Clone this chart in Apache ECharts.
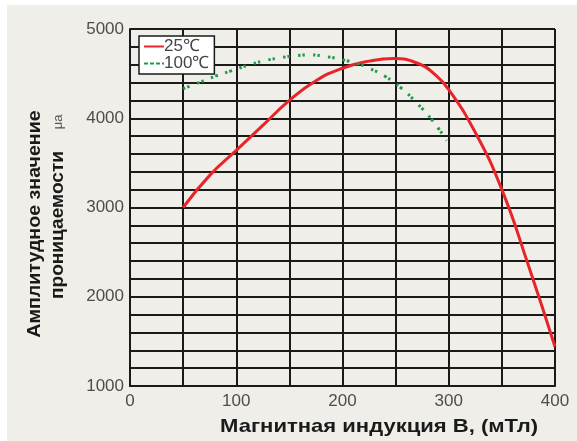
<!DOCTYPE html>
<html>
<head>
<meta charset="utf-8">
<script src="https://cdn.jsdelivr.net/npm/echarts@6/dist/echarts.min.js"></script>
<style>
html,body{margin:0;padding:0;background:#ffffff;width:577px;height:441px;overflow:hidden;}
#chart{position:absolute;left:7px;top:5px;width:570px;height:436px;}
</style>
</head>
<body>
<div id="chart"></div>
<script>
// Data
var seriesNames = ['25℃', '100℃'];
var b25 = [50, 75, 100, 125, 150, 175, 200, 225, 248, 273, 286, 300, 325, 350, 375, 400];
var mu25 = [3000, 3360, 3640, 3920, 4200, 4420, 4560, 4640, 4670, 4605, 4500, 4320, 3840, 3200, 2350, 1440];
var b100 = [50, 65, 80, 95, 110, 125, 140, 155, 170, 185, 200, 215, 225, 240, 255, 270, 285, 298];
var mu100 = [4330, 4400, 4470, 4530, 4590, 4640, 4675, 4700, 4710, 4690, 4655, 4610, 4560, 4470, 4340, 4170, 3970, 3750];
var xTickLabels = [0, 100, 200, 300, 400];
var yTickLabels = [1000, 2000, 3000, 4000, 5000];
var xTitle = 'Магнитная индукция В, (мТл)';
var yTitle1 = 'Амплитудное значение';
var yTitle2 = 'проницаемости';
var yUnit = 'μa';

function pairs(xs, ys) { return xs.map(function (x, i) { return [x, ys[i]]; }); }

var chart = echarts.init(document.getElementById('chart'));
var font = '"Liberation Sans", Arial, sans-serif';
var gridLine = { color: '#1a1a1a', width: 2 };
chart.setOption({
  backgroundColor: '#efeee8',
  animation: false,
  textStyle: { fontFamily: font },
  grid: { left: 123, top: 24, right: 22, bottom: 55 },
  legend: {
    left: 132, top: 31,
    orient: 'vertical',
    itemGap: 0,
    itemWidth: 20, itemHeight: 15,
    padding: [2, 5, 2, 4],
    backgroundColor: '#ffffff',
    borderColor: '#1a1a1a',
    borderWidth: 1.5,
    borderRadius: 0,
    itemStyle: { opacity: 0 },
    textStyle: { fontSize: 17, color: '#444', fontFamily: font, padding: [0, 0, 0, -5] },
    data: [
      { name: seriesNames[0] },
      { name: seriesNames[1], lineStyle: { type: [4, 2], width: 2 } }
    ]
  },
  xAxis: {
    type: 'value', min: 0, max: 400, interval: 50,
    axisLine: { show: true, lineStyle: gridLine },
    axisTick: { show: false },
    axisLabel: {
      color: '#4d4d4d', fontSize: 17, margin: 7,
      formatter: function (v) { return xTickLabels.indexOf(v) >= 0 ? String(v) : ''; }
    },
    splitLine: { show: true, lineStyle: gridLine }
  },
  yAxis: {
    type: 'value', min: 1000, max: 5000, interval: 200,
    axisLine: { show: true, lineStyle: gridLine },
    axisTick: { show: false },
    axisLabel: {
      color: '#4d4d4d', fontSize: 17, margin: 6,
      formatter: function (v) { return yTickLabels.indexOf(v) >= 0 ? String(v) : ''; }
    },
    splitLine: { show: true, lineStyle: gridLine }
  },
  graphic: [
    { type: 'text', x: 372, y: 422, scaleX: 1.16,
      style: { text: xTitle, font: 'bold 19px ' + font, fill: '#1a1a1a', align: 'center', verticalAlign: 'middle' } },
    { type: 'text', x: 28, y: 219, rotation: Math.PI / 2, scaleX: 1.09,
      style: { text: yTitle1, font: 'bold 18px ' + font, fill: '#1a1a1a', align: 'center', verticalAlign: 'middle' } },
    { type: 'text', x: 51, y: 220, rotation: Math.PI / 2, scaleX: 1.06,
      style: { text: yTitle2, font: 'bold 18px ' + font, fill: '#1a1a1a', align: 'center', verticalAlign: 'middle' } },
    { type: 'text', x: 51, y: 117, rotation: Math.PI / 2,
      style: { text: yUnit, font: '13px ' + font, fill: '#555', align: 'center', verticalAlign: 'middle' } }
  ],
  series: [
    {
      name: seriesNames[0], type: 'line', smooth: true, symbol: 'none',
      data: pairs(b25, mu25),
      lineStyle: { color: '#e8242b', width: 3 },
      itemStyle: { color: '#e8242b' }
    },
    {
      name: seriesNames[1], type: 'line', smooth: true, symbol: 'none',
      data: pairs(b100, mu100),
      lineStyle: { color: '#23994a', width: 3, type: [2.5, 2, 2.5, 8] },
      itemStyle: { color: '#23994a' }
    }
  ]
});
</script>
</body>
</html>
